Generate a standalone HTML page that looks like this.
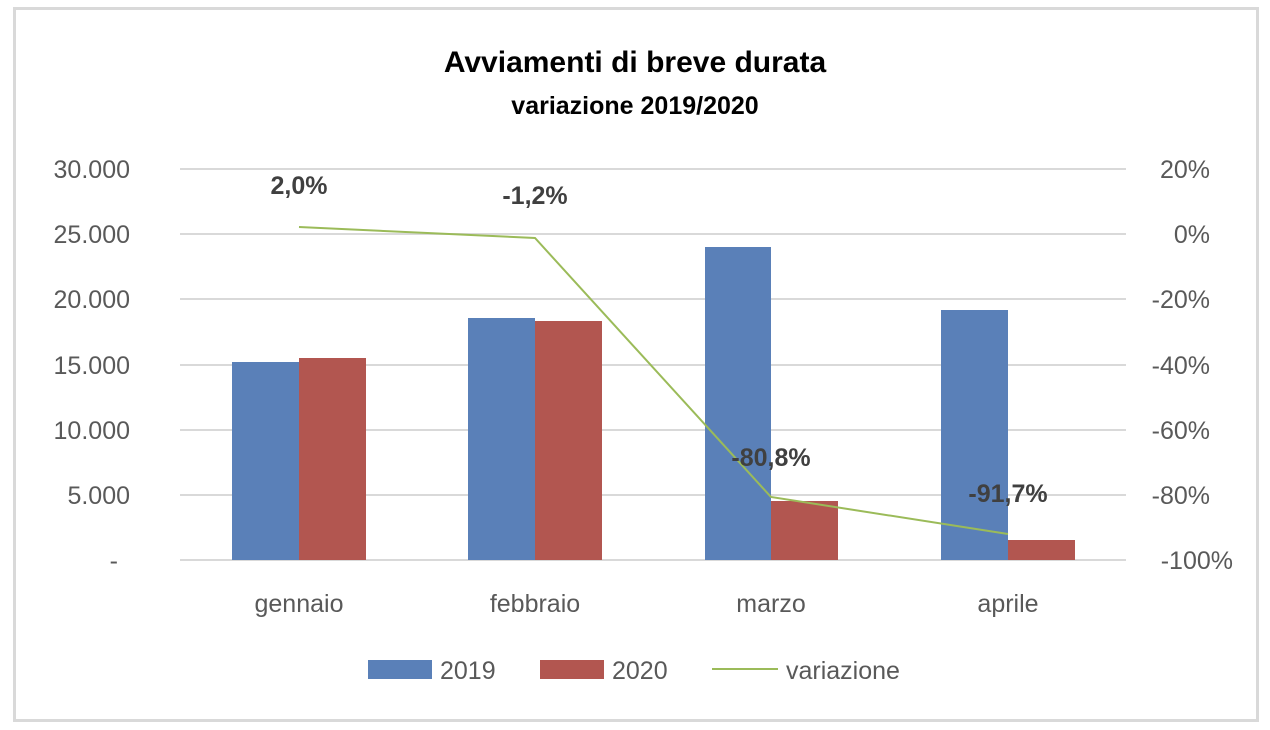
<!DOCTYPE html>
<html><head><meta charset="utf-8"><style>
html,body{margin:0;padding:0;background:#fff;}
svg{display:block;font-family:"Liberation Sans",sans-serif;}
</style></head><body>
<svg width="1270" height="730" viewBox="0 0 1270 730">
<rect x="14.5" y="8.5" width="1243" height="712" fill="#fff" stroke="#d9d9d9" stroke-width="3"/>
<text x="635" y="72" text-anchor="middle" font-size="30" font-weight="bold" fill="#000">Avviamenti di breve durata</text>
<text x="635" y="114" text-anchor="middle" font-size="25" font-weight="bold" fill="#000">variazione 2019/2020</text>
<g stroke="#d9d9d9" stroke-width="2">
<line x1="180" y1="169" x2="1126" y2="169"/>
<line x1="180" y1="234" x2="1126" y2="234"/>
<line x1="180" y1="299" x2="1126" y2="299"/>
<line x1="180" y1="365" x2="1126" y2="365"/>
<line x1="180" y1="430" x2="1126" y2="430"/>
<line x1="180" y1="495" x2="1126" y2="495"/>
<line x1="180" y1="560" x2="1126" y2="560"/>
</g>
<g font-size="25" fill="#595959" text-anchor="end">
<text x="130" y="178">30.000</text>
<text x="130" y="243">25.000</text>
<text x="130" y="308">20.000</text>
<text x="130" y="374">15.000</text>
<text x="130" y="439">10.000</text>
<text x="130" y="504">5.000</text>
<text x="118" y="569">-</text>
</g>
<g font-size="25" fill="#595959" text-anchor="end">
<text x="1210" y="178">20%</text>
<text x="1210" y="243">0%</text>
<text x="1210" y="308">-20%</text>
<text x="1210" y="374">-40%</text>
<text x="1210" y="439">-60%</text>
<text x="1210" y="504">-80%</text>
<text x="1233" y="569">-100%</text>
</g>
<g fill="#5a80b8">
<rect x="232" y="362" width="67" height="198"/>
<rect x="468" y="318" width="67" height="242"/>
<rect x="705" y="247" width="66" height="313"/>
<rect x="941" y="310" width="67" height="250"/>
</g>
<g fill="#b25650">
<rect x="299" y="358" width="67" height="202"/>
<rect x="535" y="321" width="67" height="239"/>
<rect x="771" y="501" width="67" height="59"/>
<rect x="1008" y="540" width="67" height="20"/>
</g>
<polyline points="299,227 535,238 771,497 1008,534" fill="none" stroke="#9bbb59" stroke-width="2"/>
<g font-size="25" font-weight="bold" fill="#404040" text-anchor="middle">
<text x="299" y="194">2,0%</text>
<text x="535" y="204">-1,2%</text>
<text x="771" y="466">-80,8%</text>
<text x="1008" y="502">-91,7%</text>
</g>
<g font-size="25" fill="#595959" text-anchor="middle">
<text x="299" y="612">gennaio</text>
<text x="535" y="612">febbraio</text>
<text x="771" y="612">marzo</text>
<text x="1008" y="612">aprile</text>
</g>
<rect x="368" y="660" width="64" height="19" fill="#5a80b8"/>
<text x="440" y="679" font-size="25" fill="#595959">2019</text>
<rect x="540" y="660" width="64" height="19" fill="#b25650"/>
<text x="612" y="679" font-size="25" fill="#595959">2020</text>
<line x1="712" y1="669" x2="778" y2="669" stroke="#9bbb59" stroke-width="2"/>
<text x="786" y="679" font-size="25" fill="#595959">variazione</text>
</svg>
</body></html>
